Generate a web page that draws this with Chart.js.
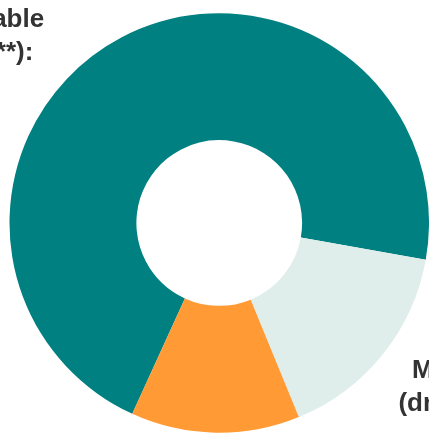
<!DOCTYPE html>
<html>
<head>
<meta charset="utf-8">
<script src="https://cdn.jsdelivr.net/npm/chart.js@4/dist/chart.umd.min.js"></script>
<style>
  html, body { margin: 0; padding: 0; background: #fff; }
  #wrap { width: 429px; height: 434px; }
</style>
</head>
<body>
<div id="wrap"><canvas id="ringChart"></canvas></div>
<script>
// data
const categories = [
  ['Not available', '(no data**):'],
  ['Missing', '(dropout):'],
  ['Available:']
];
const shares = [71, 16, 13];
const sliceColors = ['#008080', '#dfeeeb', '#ff9a35'];

// where each label block sits, in units of the outer radius from the centre
const labelSpots = [
  { dx: -1.217, dy: -0.934 },
  { dx: 1.15, dy: 0.739 },
  { dx: -0.57, dy: 1.13 }
];

const sliceLabels = {
  id: 'sliceLabels',
  afterDraw(chart) {
    const ctx = chart.ctx;
    const arcs = chart.getDatasetMeta(0).data;
    ctx.save();
    ctx.font = 'bold 26px Arial, "Liberation Sans", Helvetica, sans-serif';
    ctx.fillStyle = '#333333';
    ctx.textAlign = 'center';
    ctx.textBaseline = 'alphabetic';
    arcs.forEach((arc, i) => {
      const { x, y, outerRadius } = arc.getProps(['x', 'y', 'outerRadius'], true);
      const spot = labelSpots[i];
      const lx = x + spot.dx * outerRadius;
      let ly = y + spot.dy * outerRadius;
      const lines = categories[i].concat([shares[i] + '%']);
      lines.forEach(line => {
        ctx.fillText(line, lx, ly);
        ly += 33;
      });
    });
    ctx.restore();
  }
};

new Chart(document.getElementById('ringChart'), {
  type: 'doughnut',
  data: {
    labels: categories.map(c => c.join(' ')),
    datasets: [{
      data: shares,
      backgroundColor: sliceColors,
      borderWidth: 0
    }]
  },
  options: {
    responsive: true,
    maintainAspectRatio: false,
    animation: false,
    cutout: '39.5%',
    rotation: 204.5,
    layout: { padding: { top: 13, bottom: 1, left: 9.5, right: 0 } },
    plugins: {
      legend: { display: false },
      tooltip: { enabled: false }
    }
  },
  plugins: [sliceLabels]
});
</script>
</body>
</html>
